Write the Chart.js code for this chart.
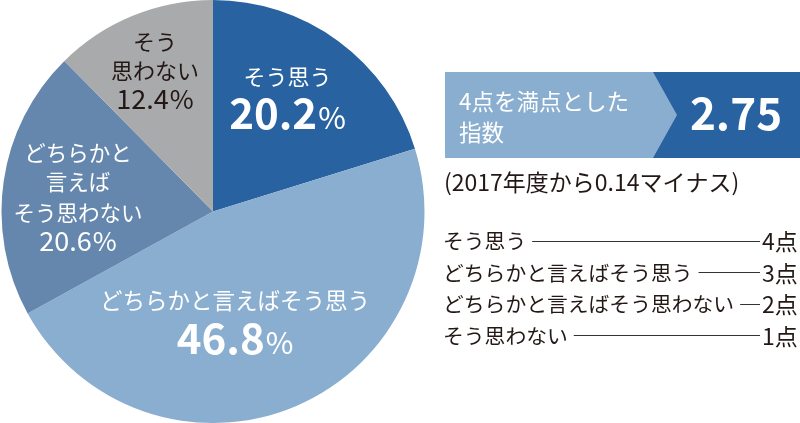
<!DOCTYPE html>
<html><head><meta charset="utf-8">
<script src="https://cdn.jsdelivr.net/npm/chart.js@4"></script>
<style>html,body{margin:0;padding:0;background:#fff;overflow:hidden}#wrap{position:relative;width:800px;height:423px}</style>
</head><body><div id="wrap"><canvas id="c" width="800" height="423"></canvas></div>
<script>
// ---- data ----
const categories = ['そう思う', 'どちらかと言えばそう思う', 'どちらかと言えばそう思わない', 'そう思わない'];
const shares = [20.2, 46.8, 20.6, 12.4];
const pointLabels = ['4点', '3点', '2点', '1点'];
const sliceLabelLines = [['そう思う'], ['どちらかと言えばそう思う'], ['どちらかと', '言えば', 'そう思わない'], ['そう', '思わない']];
const indexTitle = ['4点を満点とした', '指数'];
const indexValue = '2.75';
const indexNote = '(2017年度から0.14マイナス)';

// ---- styles ----
const colors = ['#2862a0', '#8aaecf', '#6587ad', '#a9aaab'];
const FONT = '"Noto Sans CJK JP", "Noto Sans", sans-serif';
const DARK = '#231815';

function drawValue(ctx, x, cy, val, big, small, weight, color) {
  ctx.save();
  ctx.fillStyle = color;
  ctx.textBaseline = 'alphabetic';
  ctx.textAlign = 'left';
  ctx.font = weight + ' ' + big + 'px ' + FONT;
  const wNum = ctx.measureText(val).width;
  ctx.font = '400 ' + small + 'px ' + FONT;
  const wPct = ctx.measureText('%').width;
  const total = wNum + wPct + 1;
  const base = cy + big * 0.365;
  let sx = x - total / 2;
  ctx.font = weight + ' ' + big + 'px ' + FONT;
  ctx.fillText(val, sx, base);
  ctx.font = '400 ' + small + 'px ' + FONT;
  ctx.fillText('%', sx + wNum + 1, base);
  ctx.restore();
}

// per-slice label layout: anchor as fraction of radius, line offsets, sizes
const labelLayout = [
  {fx: 0.352, fy: -0.551, dys: [-18], dyv: 19, txt: 22, big: 42, small: 30, w: '700', color: '#fff'},
  {fx: 0.104, fy: 0.518, dys: [-21], dyv: 18, txt: 22.5, big: 42, small: 30, w: '700', color: '#fff'},
  {fx: -0.638, fy: -0.069, dys: [-44.5, -15, 15.5], dyv: 44, txt: 21.5, big: 27, small: 26, w: '400', color: '#fff'},
  {fx: -0.274, fy: -0.664, dys: [-29, 0], dyv: 28.5, txt: 22, big: 27, small: 26, w: '400', color: DARK}
];

const labelPlugin = {
  id: 'sliceLabels',
  afterDatasetsDraw(chart) {
    const ctx = chart.ctx;
    const meta = chart.getDatasetMeta(0);
    meta.data.forEach((arc, i) => {
      const L = labelLayout[i];
      const R = arc.outerRadius;
      const ax = arc.x + L.fx * R;
      const ay = arc.y + L.fy * R;
      ctx.save();
      ctx.fillStyle = L.color;
      ctx.textAlign = 'center';
      ctx.textBaseline = 'middle';
      ctx.font = '400 ' + L.txt + 'px ' + FONT;
      sliceLabelLines[i].forEach((t, k) => ctx.fillText(t, ax, ay + L.dys[k]));
      ctx.restore();
      drawValue(ctx, ax, ay + L.dyv, shares[i].toFixed(1), L.big, L.small, L.w, L.color);
    });
  }
};

const panelPlugin = {
  id: 'panel',
  afterDraw(chart) {
    const ctx = chart.ctx;
    ctx.save();
    // index box
    ctx.fillStyle = colors[1];
    ctx.fillRect(445, 72, 355, 86);
    ctx.fillStyle = colors[0];
    ctx.beginPath();
    ctx.moveTo(653, 72); ctx.lineTo(800, 72); ctx.lineTo(800, 158); ctx.lineTo(653, 158); ctx.lineTo(677, 115);
    ctx.closePath(); ctx.fill();
    ctx.fillStyle = '#fff';
    ctx.textBaseline = 'middle';
    ctx.textAlign = 'left';
    ctx.font = '400 22.5px ' + FONT;
    ctx.fillText(indexTitle[0], 459, 101.5);
    ctx.fillText(indexTitle[1], 459, 132);
    ctx.textAlign = 'center';
    ctx.textBaseline = 'alphabetic';
    ctx.font = '700 44px ' + FONT;
    ctx.fillText(indexValue, 736, 114 + 44 * 0.365);
    // note
    ctx.fillStyle = DARK;
    ctx.textAlign = 'left';
    ctx.textBaseline = 'middle';
    ctx.font = '400 23px ' + FONT;
    ctx.fillText(indexNote, 444, 182);
    // score legend
    const rows = [241.5, 273, 304.5, 336];
    categories.forEach((c, i) => {
      const y = rows[i];
      ctx.fillStyle = DARK;
      ctx.textAlign = 'left';
      ctx.font = '400 20.8px ' + FONT;
      ctx.fillText(c, 443, y);
      const w = ctx.measureText(c).width;
      ctx.font = '400 23px ' + FONT;
      ctx.fillText(pointLabels[i], 762, y);
      ctx.strokeStyle = '#333';
      ctx.lineWidth = 1;
      ctx.beginPath();
      ctx.moveTo(443 + w + 6, Math.round(y - 1) + 0.5);
      ctx.lineTo(760, Math.round(y - 1) + 0.5);
      ctx.stroke();
    });
    ctx.restore();
  }
};

function make() {
  new Chart(document.getElementById('c'), {
    type: 'pie',
    data: {
      labels: categories,
      datasets: [{data: shares, backgroundColor: colors, borderWidth: 0}]
    },
    options: {
      responsive: false,
      animation: false,
      devicePixelRatio: 1,
      layout: {padding: {left: 0, top: 0, bottom: 0, right: 374}},
      plugins: {legend: {display: false}, tooltip: {enabled: false}}
    },
    plugins: [labelPlugin, panelPlugin]
  });
}
Promise.all([
  document.fonts.load('400 20px "Noto Sans CJK JP"'),
  document.fonts.load('700 20px "Noto Sans CJK JP"')
]).then(make, make);
</script>
</body></html>
